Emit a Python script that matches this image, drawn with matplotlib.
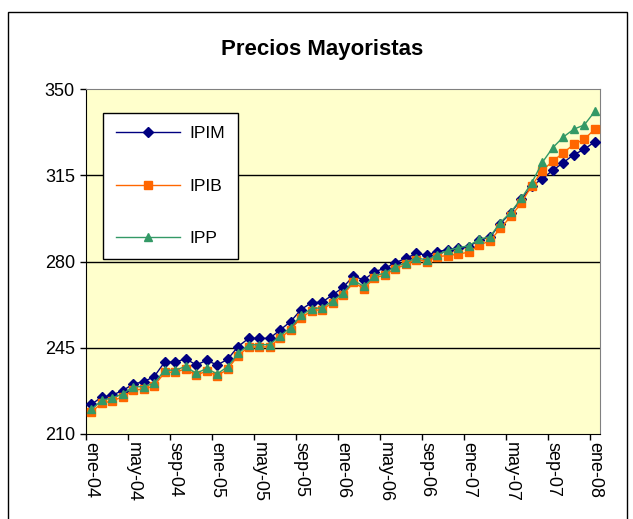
import matplotlib.pyplot as plt
from matplotlib.patches import Rectangle

plt.rcParams['font.family'] = ['Liberation Sans', 'DejaVu Sans']

# monthly data, ene-04 .. ene-08
meses = ["ene", "feb", "mar", "abr", "may", "jun", "jul", "ago", "sep", "oct", "nov", "dic"]
fechas = [f"{meses[i % 12]}-{4 + i // 12:02d}" for i in range(49)]

ipim = [222.0, 225.0, 225.8, 227.6, 230.3, 231.2, 233.3, 239.2, 239.1, 240.6,
        238.0, 239.9, 238.0, 240.3, 245.5, 248.8, 248.8, 248.8, 252.2, 255.6,
        260.5, 263.3, 263.5, 266.4, 269.5, 274.1, 272.5, 275.9, 277.2, 279.5,
        281.3, 283.3, 282.6, 284.0, 284.8, 285.4, 286.0, 288.8, 289.8, 295.4,
        299.8, 305.2, 310.6, 313.6, 317.0, 320.1, 323.4, 325.5, 328.6]
ipib = [219.0, 222.4, 223.5, 225.0, 227.8, 228.2, 229.5, 235.0, 235.0, 236.5,
        233.8, 235.6, 233.6, 236.3, 241.8, 245.3, 245.3, 245.4, 248.9, 252.3,
        257.2, 260.0, 260.5, 263.2, 266.3, 271.5, 269.0, 273.3, 274.6, 277.1,
        278.8, 280.8, 280.0, 282.0, 282.4, 283.0, 283.8, 286.7, 288.3, 293.4,
        298.3, 303.8, 310.8, 316.9, 320.7, 324.1, 327.5, 329.6, 333.7]
ipp = [220.0, 223.6, 224.7, 226.2, 229.2, 229.2, 230.6, 235.9, 235.9, 237.4,
       234.6, 236.6, 234.4, 237.3, 242.7, 246.2, 246.2, 246.3, 249.8, 253.2,
       258.1, 260.9, 261.2, 264.0, 267.1, 272.3, 269.9, 274.1, 275.4, 277.9,
       279.5, 281.5, 280.6, 282.8, 284.5, 285.6, 286.4, 289.1, 290.0, 295.8,
       300.0, 305.6, 312.0, 320.2, 326.2, 330.5, 333.7, 335.4, 340.9]

x = list(range(len(fechas)))

fig = plt.figure(figsize=(6.33, 5.19), dpi=100)
fig.patches.append(Rectangle((8 / 633, -0.05), 619 / 633, 1 - 12 / 519 + 0.05,
                             transform=fig.transFigure, fill=False,
                             edgecolor='black', lw=1))

ax = fig.add_axes([86 / 633, 1 - 434 / 519, 514 / 633, 345 / 519])
ax.set_facecolor('#FFFFCC')

for y in [245, 280, 315]:
    ax.axhline(y, color='black', lw=1, zorder=1)

ax.plot(x, ipim, color='#000080', marker='D', markersize=5, lw=1, label='IPIM', zorder=3)
ax.plot(x, ipib, color='#FF6600', marker='s', markersize=6, lw=1, label='IPIB', zorder=4)
ax.plot(x, ipp, color='#339966', marker='^', markersize=6, lw=1, label='IPP', zorder=5)

ax.set_xlim(-0.5, 48.5)
ax.set_ylim(210, 350)
ax.set_yticks([210, 245, 280, 315, 350])
ax.tick_params(axis='y', labelsize=13, direction='out', length=4, width=1, pad=4)

ax.set_xticks(x[::4])
ax.set_xticklabels(fechas[::4], rotation=270, fontsize=13)
ax.set_xticks([i - 0.5 for i in x[::4]], minor=True)
ax.tick_params(axis='x', which='major', length=0, pad=6)
ax.tick_params(axis='x', which='minor', length=4, width=1, direction='out')

ax.spines['left'].set_color('black')
ax.spines['bottom'].set_color('black')
ax.spines['top'].set_color('#808080')
ax.spines['right'].set_color('#808080')

fig.text(322 / 633, 1 - 49 / 519, "Precios Mayoristas", ha='center', va='center',
         fontsize=16, fontweight='bold')

leg = ax.legend(loc='upper left', bbox_to_anchor=(17 / 514, 1 - 24 / 345),
                fontsize=12.5, frameon=True, fancybox=False, edgecolor='black',
                framealpha=1, borderpad=0.75, labelspacing=2.15, handlelength=3.7,
                handletextpad=0.5, borderaxespad=0)
leg.get_frame().set_linewidth(1)

fig.savefig('out.png', dpi=100)
